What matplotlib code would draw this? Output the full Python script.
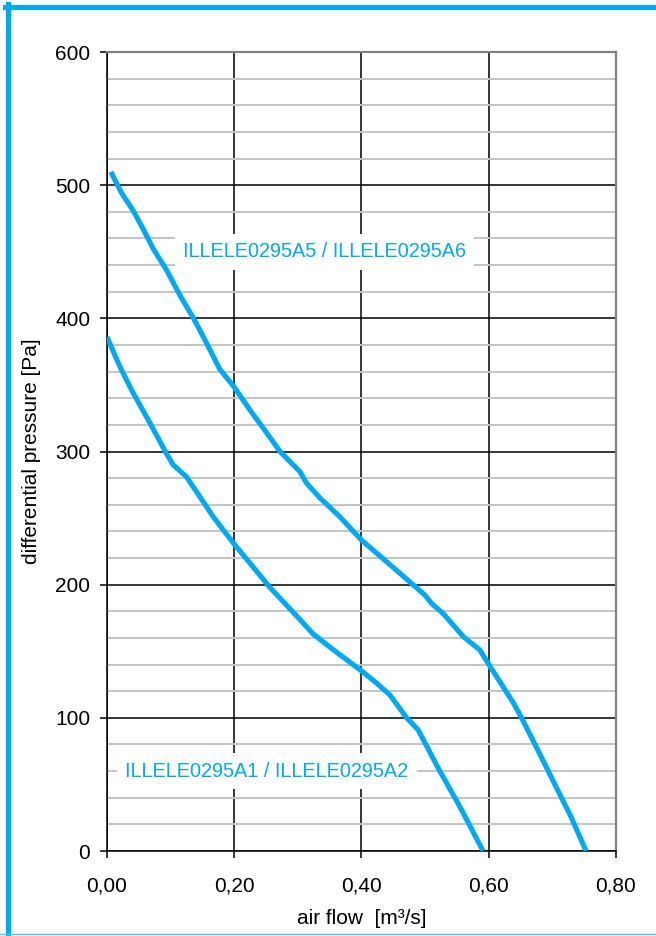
import matplotlib
matplotlib.use('Agg')
import matplotlib.pyplot as plt
from matplotlib.lines import Line2D
from matplotlib.ticker import MultipleLocator

plt.rcParams['font.family'] = ['Liberation Sans', 'DejaVu Sans']

BLUE = '#00A9F4'

# curve ILLELE0295A5 / A6
flow_a5 = [0.006, 0.023, 0.041, 0.057, 0.073, 0.094, 0.115, 0.136, 0.157, 0.177,
           0.199, 0.225, 0.251, 0.272, 0.303, 0.314, 0.335, 0.366, 0.400, 0.440,
           0.481, 0.500, 0.510, 0.529, 0.560, 0.586, 0.599, 0.623, 0.639, 0.652,
           0.677, 0.706, 0.729, 0.753]
pres_a5 = [510, 494, 481, 467, 452, 436, 417, 400, 381, 362,
           349, 331, 314, 300, 285, 276, 265, 251, 233.5, 217,
           200, 192, 186, 178, 161, 151, 141, 123, 111, 99.6,
           76, 48, 26, 0]

# curve ILLELE0295A1 / A2
flow_a1 = [0.0, 0.020, 0.041, 0.068, 0.094, 0.104, 0.125, 0.167, 0.199, 0.225,
           0.256, 0.301, 0.324, 0.356, 0.398, 0.424, 0.445, 0.471, 0.489, 0.522,
           0.555, 0.591]
pres_a1 = [386, 364, 344, 321, 298, 290, 281, 251, 231, 216,
           198, 175, 163, 151, 136, 126, 117, 100, 91, 61,
           33, 0]

label_a5 = 'ILLELE0295A5 / ILLELE0295A6'
label_a1 = 'ILLELE0295A1 / ILLELE0295A2'

x_ticks = [0.0, 0.2, 0.4, 0.6, 0.8]
x_tick_labels = ['0,00', '0,20', '0,40', '0,60', '0,80']
y_ticks = [0, 100, 200, 300, 400, 500, 600]

fig = plt.figure(figsize=(6.56, 9.36), dpi=100)
ax = fig.add_axes([0.1631, 0.0908, 0.7759, 0.8536])

ax.set_xlim(0, 0.8)
ax.set_ylim(0, 600)
ax.set_xticks(x_ticks)
ax.set_xticklabels(x_tick_labels)
ax.set_yticks(y_ticks)
ax.yaxis.set_minor_locator(MultipleLocator(20))

ax.grid(which='minor', axis='y', color='#c4c4c4', linewidth=1.4)
ax.grid(which='major', axis='both', color='black', linewidth=1.1)
ax.set_axisbelow(True)
ax.tick_params(which='minor', length=0)
ax.tick_params(which='major', length=5, width=1.1, color='black',
               labelsize=15, pad=7)
ax.tick_params(axis='x', pad=13)

for side in ['left', 'bottom']:
    ax.spines[side].set_color('black')
    ax.spines[side].set_linewidth(1.1)
for side in ['top', 'right']:
    ax.spines[side].set_color('#808080')
    ax.spines[side].set_linewidth(1.6)

ax.plot(flow_a5, pres_a5, color=BLUE, linewidth=3.7, solid_capstyle='butt', zorder=3)
ax.plot(flow_a1, pres_a1, color=BLUE, linewidth=3.7, solid_capstyle='butt', zorder=3)

box = dict(facecolor='white', edgecolor='none', pad=6)
ax.text(0.342, 450, label_a5, color=BLUE, fontsize=14.3, ha='center', va='center',
        bbox=box, zorder=4)
ax.text(0.2515, 60, label_a1, color=BLUE, fontsize=14.3, ha='center', va='center',
        bbox=box, zorder=4)

ax.set_xlabel('air flow  [m³/s]', fontsize=15, labelpad=10)
ax.set_ylabel('differential pressure [Pa]', fontsize=15, labelpad=10)

# blue frame around the figure
fig.add_artist(Line2D([7.5 / 656, 7.5 / 656], [0, 1 - 4 / 936], color='#00A9F4',
                      linewidth=3.7, transform=fig.transFigure))
fig.add_artist(Line2D([5 / 656, 1], [1 - 6.5 / 936, 1 - 6.5 / 936], color='#00A9F4',
                      linewidth=3.7, transform=fig.transFigure))
fig.add_artist(Line2D([0, 1], [2.5 / 936, 2.5 / 936], color='#5cbdf0',
                      linewidth=1.0, transform=fig.transFigure))

fig.savefig('out.png', dpi=100)
